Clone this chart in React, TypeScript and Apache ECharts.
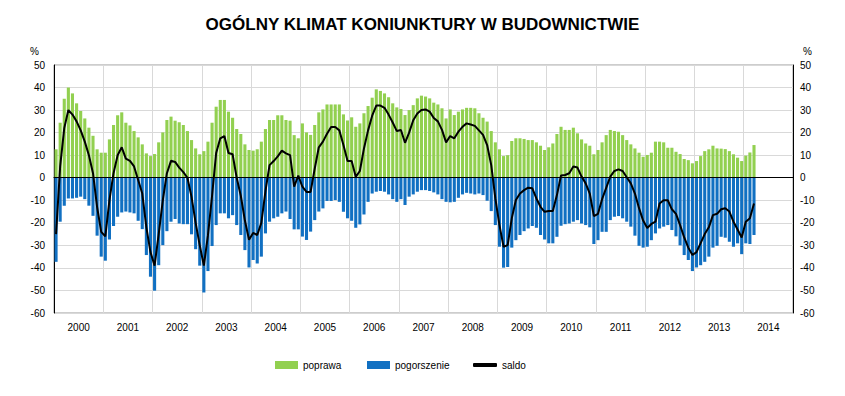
import React, { useEffect, useRef } from "react";
import * as echarts from "echarts";

const years = ["2000","2001","2002","2003","2004","2005","2006","2007","2008","2009","2010","2011","2012","2013","2014"];
const monthNames = ["01","02","03","04","05","06","07","08","09","10","11","12"];
const months: string[] = [];
years.forEach((y) => monthNames.forEach((m) => months.push(y + "-" + m)));

const poprawa = [
  12.6, 24.4, 35, 40, 37.4, 33, 29.6, 26.3, 22.2, 18.6, 12.6, 11.1,
  11.1, 17, 23.4, 27.7, 29, 24.4, 23.2, 20.7, 17.9, 14.8, 10.8, 9.6,
  10.5, 15.7, 20.1, 25.6, 27.1, 25.3, 24.6, 23.4, 20.7, 16.7, 13, 10.4,
  11.8, 16, 24.4, 31.5, 34.5, 34.5, 29.3, 26.6, 21.6, 19.4, 14.8, 12.3,
  12, 12.6, 16, 21.6, 25.6, 25.6, 27.7, 27.7, 25.6, 25.3, 18.9, 17.5,
  24.1, 20.1, 19, 23.4, 29, 30.3, 32.5, 32.5, 32.5, 32.5, 28.1, 25.4,
  26.8, 22.6, 24.1, 28.6, 31.8, 35.5, 39.2, 38.5, 37.4, 35.7, 33, 31.2,
  30.5, 27.8, 30, 32.2, 35.2, 36.4, 36, 35.2, 33.3, 32.5, 30.8, 26.3,
  30.3, 27.8, 29.3, 30.3, 31, 31, 30.8, 28.6, 26.6, 24.9, 20.7, 15.7,
  12.6, 9.6, 10, 16.3, 17.5, 17.5, 17.2, 16.7, 16.7, 15.7, 14.2, 12.3,
  13.5, 15.2, 19.4, 22.6, 21.2, 21.2, 22.2, 19.7, 17, 15.2, 14.2, 10.4,
  12.3, 15.7, 18.9, 21.2, 20.7, 20.4, 18.9, 16.7, 14.8, 13, 11.1, 9.3,
  10.1, 11.1, 16, 16, 15.7, 13.3, 13.3, 11.5, 10.5, 8.3, 7.8, 6.4,
  7.4, 9.6, 11.8, 12.6, 14.2, 13, 12.9, 12.7, 11.8, 10.4, 8.9, 7.4,
  9.8, 11.2, 14.5,
];

const pogorszenie = [
  -37.3, -19.5, -12.4, -9.2, -9.2, -8.9, -8.4, -9.5, -12.4, -16.9, -25.7, -35,
  -36.8, -27.4, -21.4, -17.3, -15.4, -15, -15.4, -15.8, -19.1, -22.8, -34.3, -43.9,
  -50.1, -38.8, -29.9, -23.7, -19.5, -18.3, -20.3, -20.6, -20.6, -25.1, -31.7, -39,
  -50.9, -41.4, -30.3, -21, -15.8, -15.8, -18, -16.6, -21, -25.4, -32.1, -39.8,
  -36.5, -38, -35, -24.7, -19.5, -18, -17.3, -15.8, -15, -18.3, -22.9, -22.9,
  -26.1, -27.6, -23.9, -18.8, -15, -13.6, -10.3, -10.3, -9.9, -10.7, -15.1, -18,
  -19.1, -22.2, -20.7, -16.3, -10.7, -7, -6.2, -5.9, -6.2, -7.4, -9.5, -10.7,
  -9.5, -12.1, -8.4, -7.4, -6.2, -5.5, -5.5, -5.9, -6.5, -7.4, -9.5, -10.7,
  -10.9, -10.7, -8.9, -7.4, -6.7, -7, -7.4, -7, -7.7, -10.2, -14.8, -21,
  -30.6, -39.9, -39.6, -31, -27.7, -25.4, -23.7, -22.5, -21.4, -22.2, -25.4, -27.4,
  -29.1, -29.1, -26.2, -21.3, -20.6, -20.3, -19.5, -18.8, -20.3, -21, -22, -29.4,
  -27.7, -24, -24, -18.8, -17.3, -17, -18, -19.5, -21.7, -25.7, -30.2, -31,
  -30.6, -27.7, -24.7, -22.5, -21.7, -21, -23.2, -26, -30, -34.3, -36.5, -41.4,
  -39.8, -38.8, -37.3, -35, -31, -30.2, -26.2, -26.6, -28.4, -30.6, -29.1, -33.9,
  -29.1, -29.4, -25.4,
];

const saldo = [
  -25, 5, 22, 30, 28, 25, 21, 16, 10, 2, -13, -24,
  -26, -10, 2, 10, 13.5, 8.5, 7.5, 5, -1, -7, -22, -33,
  -39, -25, -10, 2, 7.5, 7, 4.5, 2.5, 0, -8.5, -20, -30,
  -39, -25.5, -8, 11, 17.5, 18.5, 11, 10.4, 0, -8, -19, -27.5,
  -24.5, -25.4, -20, -6, 5.6, 7.4, 9.5, 12, 10.8, 10, -4, 1,
  -4, -6.3, -6.3, 4, 13.5, 16, 19.5, 22.5, 22.5, 21, 14.5, 7.4,
  7.4, 0.4, 3, 13, 21, 27.5, 32, 32, 31, 28, 24.5, 20.7,
  21.2, 15.5, 20, 25.5, 28.5, 30, 30.3, 29.3, 26.5, 25, 21.2, 15.7,
  18.5, 17.5, 20.4, 22.6, 24.1, 23.6, 23, 21, 19, 14.5, 5.6, -9.2,
  -21, -30.6, -29.9, -18, -9.9, -7, -5.5, -4.4, -4.7, -9.2, -12.9, -15.1,
  -14.8, -14.8, -7.7, 1, 1.2, 2, 5, 4.5, 0.5, -2.5, -7, -17,
  -16, -9.5, -4.5, 0.5, 3, 3.7, 3, 0.2, -2.5, -7, -13.5, -19,
  -22.3, -20.5, -19.5, -11.4, -10, -10, -14, -16, -21, -26.5, -31, -34.3,
  -33, -29, -25, -22, -16.6, -16, -14, -13.5, -15, -19.5, -23, -26.5,
  -19.5, -18, -11.4,
];

const FONT = "'Liberation Sans', Arial, sans-serif";

export default function App() {
  const ref = useRef<HTMLDivElement>(null);
  useEffect(() => {
    if (!ref.current) return;
    const chart = echarts.init(ref.current, null, { renderer: "svg" });
    const axisText = { fontSize: 10, color: "#000", fontFamily: FONT };
    chart.setOption({
      animation: false,
      textStyle: { fontFamily: FONT },
      title: {
        text: "OGÓLNY KLIMAT KONIUNKTURY W BUDOWNICTWIE",
        left: "center",
        top: 11,
        textStyle: { fontSize: 17, fontWeight: "bold", color: "#000", fontFamily: FONT },
      },
      legend: [
        {
          data: [{ name: "poprawa", icon: "rect" }],
          left: 275, top: 360, itemWidth: 23, itemHeight: 8, padding: 0,
          textStyle: { ...axisText },
        },
        {
          data: [{ name: "pogorszenie", icon: "rect" }],
          left: 367, top: 360, itemWidth: 23, itemHeight: 8, padding: 0,
          textStyle: { ...axisText },
        },
        {
          data: [{ name: "saldo", icon: "roundRect" }],
          left: 473, top: 360, itemWidth: 24, itemHeight: 4, padding: 0,
          textStyle: { ...axisText },
        },
      ],
      grid: {
        left: 54, right: 52, top: 65, bottom: 83,
        show: true, borderColor: "#9a9a9a", borderWidth: 1,
      },
      xAxis: [
        {
          type: "category",
          data: months,
          position: "bottom",
          z: 3,
          axisLine: { show: true, onZero: true, lineStyle: { color: "#000", width: 1.2 } },
          axisTick: { show: false },
          axisLabel: { show: false },
          splitLine: { show: false },
        },
        {
          type: "category",
          data: years,
          position: "bottom",
          axisLine: { show: false, onZero: false },
          axisTick: { show: false },
          axisLabel: { ...axisText, margin: 9 },
          splitLine: { show: true, lineStyle: { color: "#d9d9d9", width: 1 } },
        },
      ],
      yAxis: [
        {
          type: "value",
          min: -60, max: 50, interval: 10,
          position: "left",
          name: "%",
          nameLocation: "end",
          nameGap: 9,
          nameTextStyle: { ...axisText, align: "right", padding: [0, 15, 0, 0] },
          axisLine: { show: true, lineStyle: { color: "#000" } },
          axisTick: { show: false },
          axisLabel: { ...axisText, margin: 9 },
          splitLine: { show: true, lineStyle: { color: "#d9d9d9" } },
        },
        {
          type: "value",
          min: -60, max: 50, interval: 10,
          position: "right",
          name: "%",
          nameLocation: "end",
          nameGap: 9,
          nameTextStyle: { ...axisText, align: "left", padding: [0, 0, 0, 10] },
          axisLine: { show: true, lineStyle: { color: "#000" } },
          axisTick: { show: false },
          axisLabel: { ...axisText, margin: 7 },
          splitLine: { show: false },
        },
      ],
      series: [
        {
          name: "poprawa",
          type: "bar",
          xAxisIndex: 0, yAxisIndex: 0,
          data: poprawa,
          barWidth: 3.1,
          barGap: "-100%",
          itemStyle: { color: "#92d050" },
        },
        {
          name: "pogorszenie",
          type: "bar",
          xAxisIndex: 0, yAxisIndex: 0,
          data: pogorszenie,
          barWidth: 3.1,
          barGap: "-100%",
          itemStyle: { color: "#1170c2" },
        },
        {
          name: "saldo",
          type: "line",
          xAxisIndex: 0, yAxisIndex: 0,
          data: saldo,
          symbol: "none",
          z: 5,
          lineStyle: { color: "#000", width: 2 },
          itemStyle: { color: "#000" },
        },
      ],
    });
    return () => chart.dispose();
  }, []);
  return (
    <div
      ref={ref}
      style={{ position: "absolute", left: 0, top: 0, width: 845, height: 396, background: "#fff" }}
    />
  );
}
